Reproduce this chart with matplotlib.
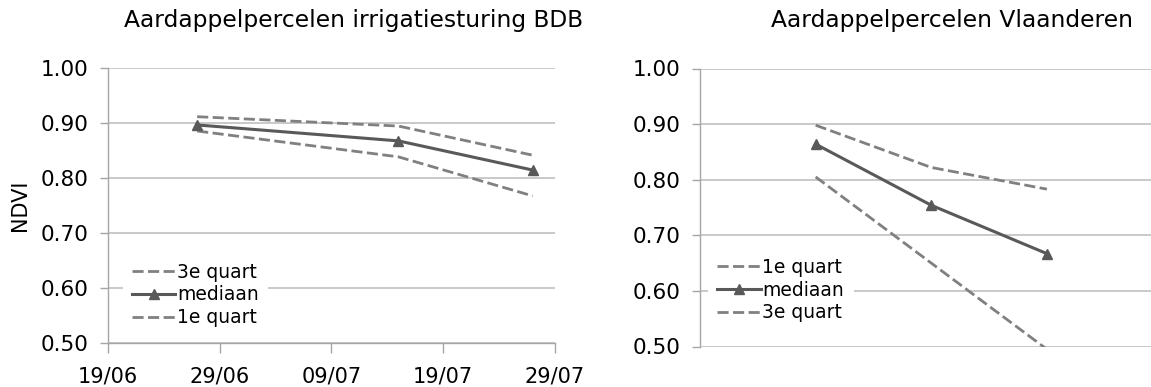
import numpy as np
import matplotlib
matplotlib.use("Agg")
import matplotlib.pyplot as plt
import matplotlib.dates as mdates
from datetime import datetime, timedelta

# BDB irrigation parcels
bdb_dates = ["2018-06-27", "2018-07-15", "2018-07-27"]
bdb_q3 = [0.912, 0.895, 0.842]
bdb_med = [0.897, 0.868, 0.815]
bdb_q1 = [0.886, 0.839, 0.768]

# Vlaanderen parcels
vl_dates = ["2018-06-29", "2018-07-09", "2018-07-19"]
vl_q1 = [0.898, 0.822, 0.783]
vl_med = [0.864, 0.754, 0.667]
vl_q3 = [0.805, 0.650, 0.495]

yticks = [0.5, 0.6, 0.7, 0.8, 0.9, 1.0]

plt.rcParams['font.family'] = ['DejaVu Sans']
W, H = 1151, 387
fig = plt.figure(figsize=(W / 100, H / 100), dpi=100)

dash_col = '#808080'
med_col = '#595959'
grid_col = '#C0C0C0'
spine_col = '#A6A6A6'

def todate(lst):
    return [datetime.strptime(d, "%Y-%m-%d") for d in lst]

def style(ax):
    ax.set_ylim(0.5, 1.0)
    ax.set_yticks(yticks)
    ax.yaxis.set_major_formatter(matplotlib.ticker.FormatStrFormatter('%.2f'))
    ax.grid(axis='y', color=grid_col, linewidth=1.2, zorder=0)
    for s in ['top', 'right']:
        ax.spines[s].set_visible(False)
    for s in ['left', 'bottom']:
        ax.spines[s].set_color(spine_col)
        ax.spines[s].set_linewidth(1.0)
    ax.tick_params(axis='y', length=6, width=1, color=spine_col, labelsize=15.5, pad=8)
    ax.set_axisbelow(True)

def draw(ax, d, top, mid, bot, labels):
    ax.plot(d, top, color=dash_col, lw=2, dashes=(4, 1.6), label=labels[0], zorder=3)
    ax.plot(d, mid, color=med_col, lw=2.2, marker='^', ms=7, label=labels[1], zorder=4)
    ax.plot(d, bot, color=dash_col, lw=2, dashes=(4, 1.6), label=labels[2], zorder=3)

def legend(ax, x, y):
    leg = ax.legend(loc='center left', bbox_to_anchor=(x, y), frameon=True,
                    fontsize=13.5, handlelength=2.3, handletextpad=0.1, labelspacing=0.2,
                    borderpad=0.5, borderaxespad=0)
    leg.get_frame().set_edgecolor('none')
    leg.get_frame().set_facecolor('white')
    leg.get_frame().set_alpha(1)

# left chart
ax1 = fig.add_axes([107.7 / W, 43.7 / H, 447.3 / W, 275 / H])
draw(ax1, todate(bdb_dates), bdb_q3, bdb_med, bdb_q1, ["3e quart", "mediaan", "1e quart"])
style(ax1)
start = datetime(2018, 6, 19)
ax1.set_xlim(start, start + timedelta(days=40))
ax1.set_xticks([start + timedelta(days=10 * i) for i in range(5)])
ax1.xaxis.set_major_formatter(mdates.DateFormatter('%d/%m'))
ax1.tick_params(axis='x', length=7, width=1, color=spine_col, labelsize=15, pad=10)
legend(ax1, 0.034, 0.176)

# right chart
ax2 = fig.add_axes([700 / W, 40.5 / H, 451 / W, 278 / H])
draw(ax2, todate(vl_dates), vl_q1, vl_med, vl_q3, ["1e quart", "mediaan", "3e quart"])
style(ax2)
ax2.set_xlim(start, start + timedelta(days=39))
ax2.set_xticks([])
ax2.spines['bottom'].set_visible(False)
legend(ax2, 0.018, 0.203)

fig.text(20 / W, 1 - 205 / H, "NDVI", rotation=90, ha='center', va='center', fontsize=15)
fig.text(354 / W, 1 - 21 / H, "Aardappelpercelen irrigatiesturing BDB", ha='center', va='center', fontsize=16.8)
fig.text(952 / W, 1 - 21 / H, "Aardappelpercelen Vlaanderen", ha='center', va='center', fontsize=16.8)

fig.savefig("out.png", dpi=100)
